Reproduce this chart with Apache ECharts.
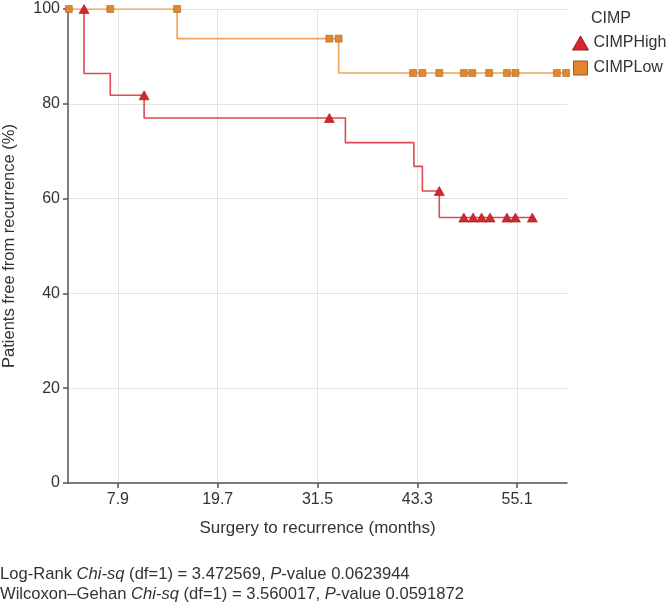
<!DOCTYPE html>
<html><head><meta charset="utf-8">
<script src="https://cdn.jsdelivr.net/npm/echarts@6/dist/echarts.min.js"></script>
<style>html,body{margin:0;padding:0;background:#fff}#c{width:668px;height:609px}</style>
</head><body><div id="c"></div>
<script>
// ---- tick labels ----
const xTickLabels = [7.9, 19.7, 31.5, 43.3, 55.1];
const yTickLabels = [0, 20, 40, 60, 80, 100];

// ---- CIMPHigh (Kaplan-Meier) ----
const highStartTime = 3.9;
const highEventTimes = [3.9, 7.0, 11.0, 34.8, 42.9, 43.9, 45.9];
const highSurvival   = [86.4, 81.8, 77.0, 71.8, 66.8, 61.6, 56.0];
const highEndTime = 56.9;
const highCensorTimes  = [3.9, 11.0, 32.9, 45.9, 48.8, 49.9, 50.9, 51.9, 53.9, 54.9, 56.9];
const highCensorValues = [100, 81.8, 77.0, 61.6, 56.0, 56.0, 56.0, 56.0, 56.0, 56.0, 56.0];

// ---- CIMPLow (Kaplan-Meier) ----
const lowStartTime = 2.1;
const lowEventTimes = [14.9, 34.0];
const lowSurvival   = [93.75, 86.5];
const lowEndTime = 60.9;
const lowCensorTimes  = [2.1, 7.0, 14.9, 32.9, 34.0, 42.8, 43.9, 45.9, 48.8, 49.8, 51.8, 53.9, 54.9, 59.8, 60.9];
const lowCensorValues = [100, 100, 100, 93.75, 93.75, 86.5, 86.5, 86.5, 86.5, 86.5, 86.5, 86.5, 86.5, 86.5, 86.5];

function stepData(start, times, surv, end) {
  const d = [[start, 100]];
  times.forEach((t, i) => d.push([t, surv[i]]));
  d.push([end, surv[surv.length - 1]]);
  return d;
}
function pairs(xs, ys) { return xs.map((x, i) => [x, ys[i]]); }

const FONT = '"Liberation Sans", Arial, Helvetica, sans-serif';
const TXT = '#333';
const RED_LINE = '#dc4a4f', RED_MARK = '#d3262d', RED_EDGE = '#9c1a1f';
const ORG_LINE = '#f0a55c', ORG_MARK = '#e6862c', ORG_EDGE = '#8f5a25';

const chart = echarts.init(document.getElementById('c'), null, {renderer: 'canvas'});
chart.setOption({
  animation: false,
  backgroundColor: '#fff',
  textStyle: {fontFamily: FONT},
  title: {
    text: 'CIMP', left: 586, top: 6,
    textStyle: {fontFamily: FONT, fontSize: 16, fontWeight: 'normal', color: TXT}
  },
  legend: {
    orient: 'vertical', left: 572, top: 35, padding: 0,
    itemWidth: 16, itemHeight: 14, itemGap: 9,
    textStyle: {fontFamily: FONT, fontSize: 16, color: TXT, padding: [0, 0, 0, 0]},
    data: [
      {name: 'CIMPHigh', icon: 'triangle', itemStyle: {color: RED_MARK, borderColor: RED_EDGE, borderWidth: 1}},
      {name: 'CIMPLow', icon: 'path://M0,0H10V10H0Z', itemStyle: {color: ORG_MARK, borderColor: ORG_EDGE, borderWidth: 1}}
    ]
  },
  grid: {left: 68, right: 101, top: 9, bottom: 126, containLabel: false, outerBoundsMode: 'none'},
  xAxis: {
    type: 'value', min: 2, max: 61,
    name: 'Surgery to recurrence (months)', nameLocation: 'middle', nameGap: 37,
    nameTextStyle: {fontFamily: FONT, fontSize: 17, color: TXT},
    axisLine: {show: true, onZero: false, lineStyle: {color: '#555', width: 1.5}},
    axisTick: {show: true, length: 5, customValues: xTickLabels, lineStyle: {color: '#555', width: 1.5}},
    axisLabel: {customValues: xTickLabels, fontFamily: FONT, fontSize: 16, color: TXT, margin: 9,
      formatter: v => v.toFixed(1)},
    splitLine: {show: true, lineStyle: {color: '#e4e4e4', width: 1}}
  },
  yAxis: {
    type: 'value', min: yTickLabels[0], max: yTickLabels[yTickLabels.length - 1], interval: 20,
    name: 'Patients free from recurrence (%)', nameLocation: 'middle', nameGap: 50,
    nameTextStyle: {fontFamily: FONT, fontSize: 16.5, color: TXT},
    axisLine: {show: true, lineStyle: {color: '#555', width: 1.5}},
    axisTick: {show: true, length: 5, lineStyle: {color: '#555', width: 1.5}},
    axisLabel: {fontFamily: FONT, fontSize: 16, color: TXT, margin: 8},
    splitLine: {show: true, lineStyle: {color: '#e4e4e4', width: 1}}
  },
  graphic: [
    {type: 'text', left: 0, top: 566, style: {
      text: 'Log-Rank {i|Chi-sq} (df=1) = 3.472569, {i|P}-value 0.0623944',
      fontFamily: FONT, fontSize: 16.6, fill: TXT,
      rich: {i: {fontStyle: 'italic', fontFamily: FONT, fontSize: 16.6, fill: TXT}}
    }},
    {type: 'text', left: 0, top: 586, style: {
      text: 'Wilcoxon\u2013Gehan {i|Chi-sq} (df=1) = 3.560017, {i|P}-value 0.0591872',
      fontFamily: FONT, fontSize: 16.6, fill: TXT,
      rich: {i: {fontStyle: 'italic', fontFamily: FONT, fontSize: 16.6, fill: TXT}}
    }}
  ],
  series: [
    {name: 'CIMPHigh curve', type: 'line', step: 'end', showSymbol: false, symbol: 'none', z: 2,
      lineStyle: {color: RED_LINE, width: 1.6}, data: stepData(highStartTime, highEventTimes, highSurvival, highEndTime)},
    {name: 'CIMPLow curve', type: 'line', step: 'end', showSymbol: false, symbol: 'none', z: 3,
      lineStyle: {color: ORG_LINE, width: 1.6}, data: stepData(lowStartTime, lowEventTimes, lowSurvival, lowEndTime)},
    {name: 'CIMPHigh', type: 'scatter', symbol: 'triangle', symbolSize: [10, 9], z: 4,
      itemStyle: {color: RED_MARK, borderColor: RED_EDGE, borderWidth: 0.6, opacity: 1},
      data: pairs(highCensorTimes, highCensorValues)},
    {name: 'CIMPLow', type: 'scatter', symbol: 'rect', symbolSize: 7, z: 5,
      itemStyle: {color: ORG_MARK, borderColor: ORG_EDGE, borderWidth: 0.5, opacity: 1},
      data: pairs(lowCensorTimes, lowCensorValues)}
  ]
});
</script>
</body></html>
